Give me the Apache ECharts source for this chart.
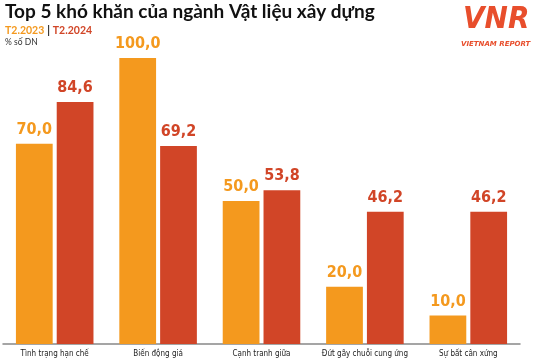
<!DOCTYPE html>
<html><head><meta charset="utf-8">
<script src="https://cdn.jsdelivr.net/npm/echarts@6/dist/echarts.min.js"></script>
<style>html,body{margin:0;padding:0;background:#fff}#c{width:540px;height:360px}</style>
</head><body><div id="c"></div>
<script>
var categories = ['Tình trạng hạn chế', 'Biến động giá', 'Cạnh tranh giữa', 'Đứt gãy chuỗi cung ứng', 'Sự bất cân xứng'];
var values2023 = [70.0, 100.0, 50.0, 20.0, 10.0];
var values2024 = [84.6, 69.2, 53.8, 46.2, 46.2];
var seriesNames = ['T2.2023', 'T2.2024'];

var ORANGE = '#F4991E', RED = '#D14527';
var labelFont = '"DejaVu Sans Condensed","Liberation Sans Narrow",sans-serif';
function fmt(p){ return p.value.toFixed(1).replace('.', ','); }

var chart = echarts.init(document.getElementById('c'));
chart.setOption({
  backgroundColor: '#fff',
  animation: false,
  grid: {left: 3, right: 20, top: 58, bottom: 16, containLabel: false},
  title: [
    {text: 'Top 5 khó khăn của ngành Vật liệu xây dựng', left: 5, top: 2, padding: 0,
     textStyle: {fontFamily: 'Lato, Roboto, sans-serif', fontWeight: 'bold', fontSize: 19, color: '#111'}},
    {text: '{a|T2.2023} {s||} {b|T2.2024}', left: 5, top: 25, padding: 0,
     textStyle: {fontSize: 10.5, lineHeight: 12, rich: {
       a: {color: ORANGE, fontWeight: 'bold', fontSize: 10.5, lineHeight: 12, fontFamily: 'Lato, sans-serif'},
       s: {color: '#222', fontWeight: 'bold', fontSize: 10.5, lineHeight: 12, fontFamily: 'Lato, sans-serif'},
       b: {color: RED, fontWeight: 'bold', fontSize: 10.5, lineHeight: 12, fontFamily: 'Lato, sans-serif'}}}},
    {text: '% số DN', left: 5, top: 38, padding: 0,
     textStyle: {fontFamily: 'Lato, sans-serif', fontWeight: 'normal', fontSize: 8.5, color: '#333'}}
  ],
  graphic: [
    {type: 'text', left: 463, top: 4, style: {text: 'VNR', font: 'italic bold 31px "DejaVu Sans Condensed", sans-serif', fill: '#E84E2C'}},
    {type: 'text', left: 461, top: 41, style: {text: 'VIETNAM REPORT', font: 'italic bold 7px "DejaVu Sans", sans-serif', fill: '#E84E2C'}}
  ],
  xAxis: {
    type: 'category', data: categories,
    axisLine: {lineStyle: {color: '#888', width: 1.5}},
    axisTick: {show: false},
    axisLabel: {color: '#222', fontSize: 8, margin: 6, fontFamily: '"DejaVu Sans Condensed",sans-serif', interval: 0}
  },
  yAxis: {type: 'value', min: 0, max: 100, show: false, splitLine: {show: false}},
  series: [
    {name: seriesNames[0], type: 'bar', data: values2023, barGap: '11%', barCategoryGap: '25%',
     itemStyle: {color: ORANGE},
     label: {show: true, position: 'top', distance: 6, formatter: fmt, color: ORANGE,
             fontFamily: labelFont, fontWeight: 'bold', fontSize: 16}},
    {name: seriesNames[1], type: 'bar', data: values2024,
     itemStyle: {color: RED},
     label: {show: true, position: 'top', distance: 6, formatter: fmt, color: RED,
             fontFamily: labelFont, fontWeight: 'bold', fontSize: 16}}
  ]
});
</script></body></html>
